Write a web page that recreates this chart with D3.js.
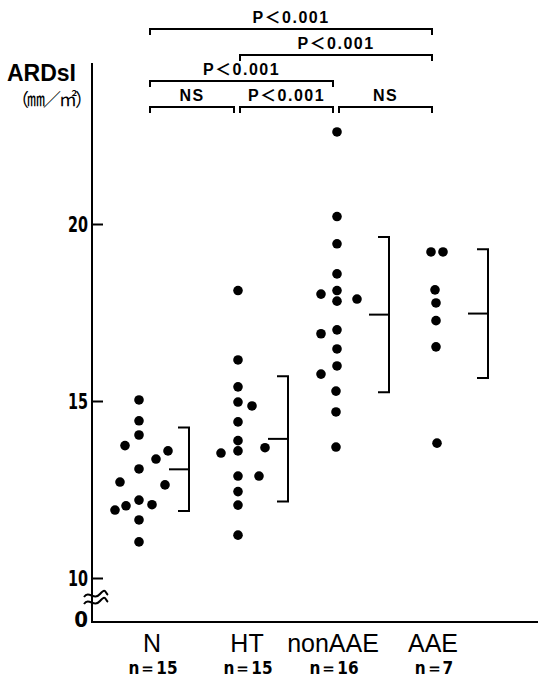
<!DOCTYPE html>
<html>
<head>
<meta charset="utf-8">
<script src="https://cdn.jsdelivr.net/npm/d3@7"></script>
<style>
  body { margin: 0; background: #fff; }
  svg { display: block; }
</style>
</head>
<body>
<div id="chart"></div>
<script>
const width = 538;
const height = 677;

// groups and counts
const groups = ['N', 'HT', 'nonAAE', 'AAE'];
const counts = ['n＝15', 'n＝15', 'n＝16', 'n＝7'];

// individual values, with horizontal jitter (in dot widths)
const nValues  = [15.03, 14.44, 14.04, 13.74, 13.59, 13.36, 13.08, 12.71, 12.63, 12.20, 12.04, 12.07, 11.92, 11.64, 11.02];
const nJitter  = [0, 0, 0, -1.4, 2.9, 1.7, 0, -1.9, 2.6, 0, -1.3, 1.3, -2.4, 0, 0];
const htValues = [18.12, 16.16, 15.40, 14.97, 14.86, 14.41, 13.88, 13.59, 13.53, 13.68, 12.88, 12.88, 12.44, 12.06, 11.21];
const htJitter = [0, 0, 0, 0, 1.4, 0, 0, 0, -1.7, 2.7, 0, 2.1, 0, 0, 0];
const naValues = [22.60, 20.21, 19.44, 18.59, 18.12, 18.02, 17.82, 17.88, 17.01, 16.90, 16.47, 15.99, 15.76, 15.28, 14.69, 13.70];
const naJitter = [0, 0, 0, 0, 0, -1.6, 0, 2.0, 0, -1.6, 0, 0, -1.6, -0.1, -0.1, -0.1];
const aaeValues = [19.21, 19.21, 18.14, 17.77, 17.27, 16.53, 13.81];
const aaeJitter = [-0.5, 0.7, -0.1, 0, 0, 0, 0.1];

// mean and SD for each group
const means = [13.07, 13.93, 17.44, 17.47];
const sds = [1.18, 1.77, 2.19, 1.82];

const yTicks = [10, 15, 20];

// significance comparisons
const compFrom  = ['N', 'HT', 'nonAAE', 'N', 'HT', 'N'];
const compTo    = ['HT', 'nonAAE', 'AAE', 'nonAAE', 'AAE', 'AAE'];
const compLabel = ['NS', 'P＜0.001', 'NS', 'P＜0.001', 'P＜0.001', 'P＜0.001'];
const compLevel = [0, 0, 0, 1, 2, 3];

const labelDx = [13, 9, -4, -3];
const narrow = '"Liberation Sans Narrow", "DejaVu Sans Condensed", sans-serif';

const svg = d3.select('#chart')
    .append('svg')
        .attr('width', width)
        .attr('height', height)
        .style('font-family', '"Liberation Sans", Arial, sans-serif');

const axisX = 92;
const baseY = 622;

const x = d3.scalePoint().domain(groups).range([139, 436]);
const y = d3.scaleLinear().domain([10, 20]).range([578, 224]);
const jitter = d3.scaleLinear().domain([0, 1]).range([0, 10]);

// axes
svg.append('line')
    .attr('x1', axisX).attr('x2', axisX)
    .attr('y1', y(24.55)).attr('y2', baseY)
    .attr('stroke', '#000').attr('stroke-width', 2);

svg.append('line')
    .attr('x1', axisX - 1).attr('x2', width)
    .attr('y1', baseY).attr('y2', baseY)
    .attr('stroke', '#000').attr('stroke-width', 2);

const yAxis = svg.append('g')
    .attr('transform', `translate(${axisX},0)`)
    .call(d3.axisLeft(y).tickValues(yTicks).tickSize(-11).tickPadding(4))
    .attr('font-family', narrow)
    .attr('font-weight', 'bold')
    .attr('font-size', 22);
yAxis.select('.domain').remove();
yAxis.selectAll('line').attr('stroke-width', 2);
yAxis.selectAll('text')
    .attr('fill', '#000')
    .attr('textLength', 20)
    .attr('lengthAdjust', 'spacingAndGlyphs')
    .style('font-weight', 700);

svg.append('text')
    .attr('x', axisX - 4).attr('y', baseY + 5)
    .attr('text-anchor', 'end')
    .attr('font-family', narrow)
    .style('font-weight', 700)
    .style('font-size', '22px')
    .text('0');

// axis break
[595, 602].forEach(by => {
    svg.append('path')
        .attr('d', `M${axisX - 8},${by + 2} C${axisX - 3},${by - 5} ${axisX + 2},${by + 6} ${axisX + 8},${by - 1} S${axisX + 13},${by - 2} ${axisX + 16},${by}`)
        .attr('fill', 'none')
        .attr('stroke', '#000')
        .attr('stroke-width', 2);
});

// axis title
svg.append('text')
    .attr('x', 7).attr('y', 81)
    .style('font-size', '23px')
    .style('font-weight', 'bold')
    .text('ARDsI');

svg.append('text')
    .attr('x', 11).attr('y', 106)
    .style('font-family', '"Noto Sans CJK JP", sans-serif')
    .style('font-size', '18px')
    .style('letter-spacing', '-2px')
    .text('（㎜／㎡）');

// dots
const allValues = [nValues, htValues, naValues, aaeValues];
const allJitter = [nJitter, htJitter, naJitter, aaeJitter];
const points = groups.flatMap((g, i) =>
    allValues[i].map((v, j) => ({ group: g, value: v, dx: allJitter[i][j] })));

svg.append('g')
    .selectAll('circle')
    .data(points)
    .enter()
    .append('circle')
        .attr('cx', d => x(d.group) + jitter(d.dx))
        .attr('cy', d => y(d.value))
        .attr('r', 4.8)
        .attr('fill', '#000');

// mean +/- SD brackets
const sdG = svg.append('g')
    .attr('fill', 'none')
    .attr('stroke', '#000')
    .attr('stroke-width', 2);

groups.forEach((g, i) => {
    const bx = x(g) + (i < 2 ? 50 : 52);
    const top = y(means[i] + sds[i]);
    const bot = y(means[i] - sds[i]);
    sdG.append('path')
        .attr('d', `M${bx - 11},${top} H${bx} V${bot} H${bx - 11}`);
    sdG.append('line')
        .attr('x1', bx - 20).attr('x2', bx)
        .attr('y1', y(means[i])).attr('y2', y(means[i]));
});

// significance brackets
const comps = compFrom.map((f, i) => ({
    from: f, to: compTo[i], label: compLabel[i], level: compLevel[i]
}));

const compG = svg.append('g');
comps.forEach(c => {
    const x1 = c.from === groups[0] ? x(c.from) + 11 : x(c.from) + 2;
    const x2 = x(c.to) - 4;
    const ly = 107 - c.level * 26;
    compG.append('path')
        .attr('d', `M${x1},${ly + 6} V${ly} H${x2} V${ly + 6}`)
        .attr('fill', 'none')
        .attr('stroke', '#000')
        .attr('stroke-width', 2);
    compG.append('text')
        .attr('x', (x1 + x2) / 2)
        .attr('y', ly - 6)
        .attr('text-anchor', 'middle')
        .style('font-family', '"Liberation Sans", "Noto Sans CJK JP", sans-serif')
        .style('font-weight', 'bold')
        .style('font-size', '16px')
        .style('letter-spacing', '1.5px')
        .text(c.label);
});

// category labels
groups.forEach((g, i) => {
    svg.append('text')
        .attr('x', x(g) + labelDx[i])
        .attr('y', 652)
        .attr('text-anchor', 'middle')
        .style('font-size', '25px')
        .text(g);
    svg.append('text')
        .attr('x', x(g) + labelDx[i] + 1)
        .attr('y', 674)
        .attr('text-anchor', 'middle')
        .attr('font-family', narrow)
        .style('font-weight', 700)
        .style('font-size', '17px')
        .text(counts[i]);
});
</script>
</body>
</html>
